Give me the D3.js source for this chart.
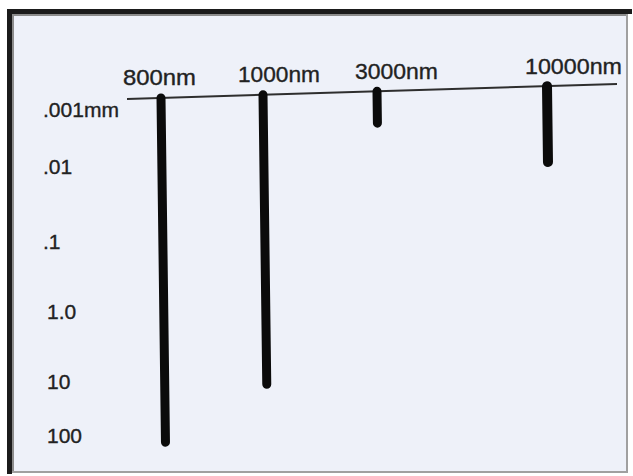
<!DOCTYPE html>
<html>
<head>
<meta charset="utf-8">
<script src="https://cdn.jsdelivr.net/npm/d3@7"></script>
<style>
  body { margin: 0; background: #fff; }
  svg text { font-family: "Liberation Sans", Arial, sans-serif; fill: #222; stroke: #222; stroke-width: 0.35; }
</style>
</head>
<body>
<div id="chart"></div>
<script>
// wavelengths and how deep each one gets (mm)
const wavelengths = ["800nm", "1000nm", "3000nm", "10000nm"];
const depths = [130, 11, 0.0017, 0.0082];

// depth tick values and their labels
const tickValues = [0.001, 0.01, 0.1, 1, 10, 100];
const tickLabels = [".001mm", ".01", ".1", "1.0", "10", "100"];

const width = 633;
const height = 476;

const svg = d3.select("#chart").append("svg")
  .attr("width", width)
  .attr("height", height);

// paper + scanned frame
svg.append("rect")
  .attr("x", 12).attr("y", 14)
  .attr("width", 615).attr("height", 458)
  .attr("fill", "#eef1f9");
svg.append("rect").attr("x", 7).attr("y", 9).attr("width", 625).attr("height", 5).attr("fill", "#1b1b1b");
svg.append("rect").attr("x", 7).attr("y", 9).attr("width", 5).attr("height", 465).attr("fill", "#1b1b1b");
svg.append("rect").attr("x", 12).attr("y", 14).attr("width", 615).attr("height", 2).attr("fill", "#8c8c8c");
svg.append("rect").attr("x", 12).attr("y", 14).attr("width", 2).attr("height", 458).attr("fill", "#8c8c8c");
svg.append("rect").attr("x", 626).attr("y", 14).attr("width", 2).attr("height", 459).attr("fill", "#a0a0a0");
svg.append("rect").attr("x", 12).attr("y", 471).attr("width", 616).attr("height", 2).attr("fill", "#a0a0a0");

// depth scale (the drawing spaces the decades unevenly)
const yScale = d3.scaleLog()
  .domain(tickValues)
  .range([110, 167, 242, 312, 382, 436]);

// wavelength positions along the surface line
const xScale = d3.scaleOrdinal()
  .domain(wavelengths)
  .range([161, 263, 377, 547]);

const labelX = d3.scaleOrdinal()
  .domain(wavelengths)
  .range([123, 238, 355, 525]);
const labelW = d3.scaleOrdinal()
  .domain(wavelengths)
  .range([73, 82, 83, 97]);

// surface line is drawn slightly tilted
const surface = d3.scaleLinear().domain([127, 617]).range([99, 84]);

svg.append("line")
  .attr("x1", 127).attr("y1", surface(127))
  .attr("x2", 617).attr("y2", surface(617))
  .attr("stroke", "#2e2e2e")
  .attr("stroke-width", 2);

// depth labels
svg.selectAll(".tick-label")
  .data(tickValues)
  .enter()
  .append("text")
  .attr("class", "tick-label")
  .attr("x", (d, i) => (i < 3 ? 43 : 47))
  .attr("y", (d) => yScale(d) + 7)
  .attr("font-size", 21)
  .attr("textLength", (d, i) => (i === 0 ? 76 : null))
  .attr("lengthAdjust", "spacingAndGlyphs")
  .text((d, i) => tickLabels[i]);

// wavelength labels
svg.selectAll(".wl-label")
  .data(wavelengths)
  .enter()
  .append("text")
  .attr("class", "wl-label")
  .attr("x", (d) => labelX(d))
  .attr("y", (d) => surface(xScale(d)) - 12.5)
  .attr("font-size", 22)
  .attr("textLength", (d) => labelW(d))
  .attr("lengthAdjust", "spacingAndGlyphs")
  .text((d) => d);

// penetration bars
svg.selectAll(".bar")
  .data(wavelengths)
  .enter()
  .append("line")
  .attr("class", "bar")
  .attr("x1", (d) => xScale(d))
  .attr("y1", (d) => surface(xScale(d)))
  .attr("x2", (d, i) => xScale(d) + (yScale(depths[i]) - surface(xScale(d))) * 0.013)
  .attr("y2", (d, i) => yScale(depths[i]))
  .attr("stroke", "#0b0b0b")
  .attr("stroke-width", (d, i) => (i === 3 ? 10 : 9))
  .attr("stroke-linecap", "round");
</script>
</body>
</html>
